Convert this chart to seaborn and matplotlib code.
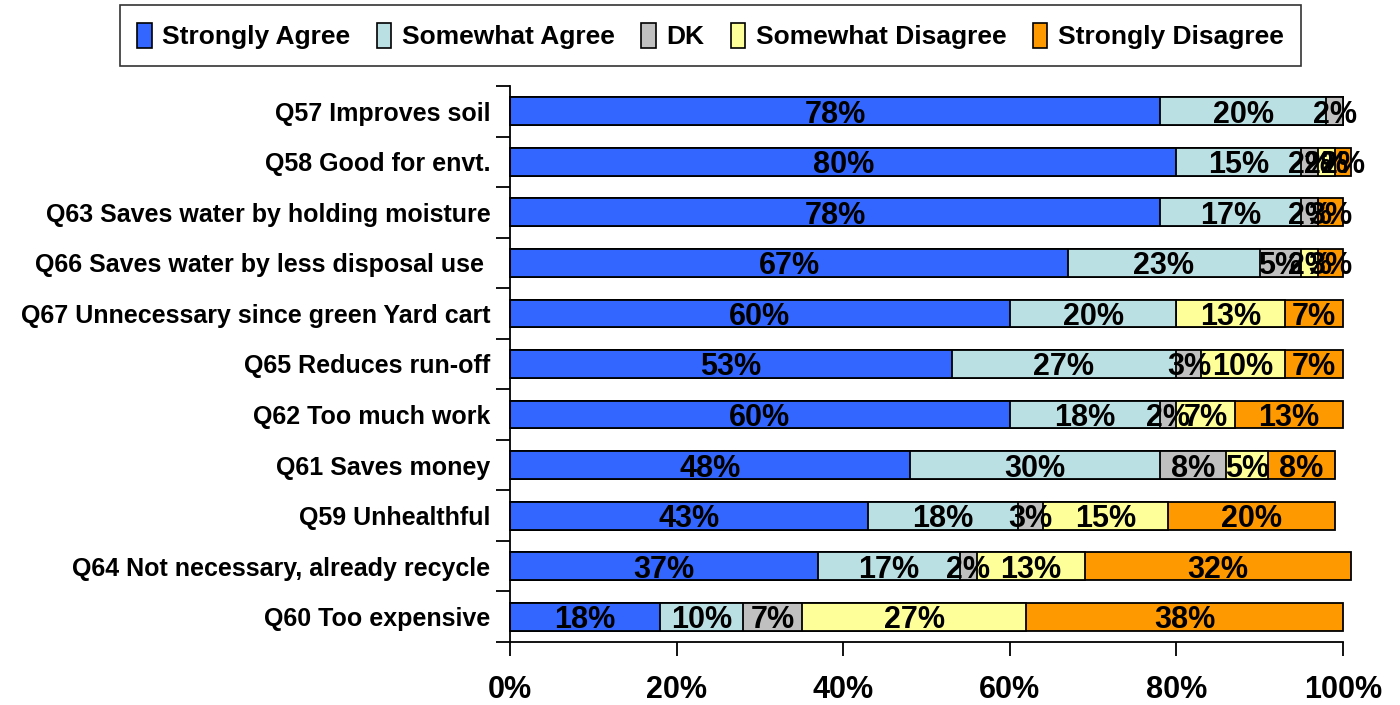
import numpy as np
import pandas as pd
import matplotlib
matplotlib.use("Agg")
import matplotlib.pyplot as plt
import seaborn as sns
from matplotlib.ticker import FixedLocator
from matplotlib.patches import Patch

categories = [
    "Q57 Improves soil",
    "Q58 Good for envt.",
    "Q63 Saves water by holding moisture",
    "Q66 Saves water by less disposal use ",
    "Q67 Unnecessary since green Yard cart",
    "Q65 Reduces run-off",
    "Q62 Too much work",
    "Q61 Saves money",
    "Q59 Unhealthful",
    "Q64 Not necessary, already recycle",
    "Q60 Too expensive",
]
strongly_agree    = [78, 80, 78, 67, 60, 53, 60, 48, 43, 37, 18]
somewhat_agree    = [20, 15, 17, 23, 20, 27, 18, 30, 18, 17, 10]
dont_know         = [2, 2, 2, 5, 0, 3, 2, 8, 3, 2, 7]
somewhat_disagree = [0, 2, 0, 2, 13, 10, 7, 5, 15, 13, 27]
strongly_disagree = [0, 2, 3, 3, 7, 7, 13, 8, 20, 32, 38]

series_names = ["Strongly Agree", "Somewhat Agree", "DK", "Somewhat Disagree", "Strongly Disagree"]
series_vals = [strongly_agree, somewhat_agree, dont_know, somewhat_disagree, strongly_disagree]
colors = ["#3366FF", "#BBE0E3", "#C0C0C0", "#FFFF99", "#FF9900"]
x_ticks = [0, 20, 40, 60, 80, 100]

sns.set_theme(style="white")
plt.rcParams['font.family'] = ['Liberation Sans', 'DejaVu Sans']
plt.rcParams['font.weight'] = 'bold'
for k in ['text.color', 'axes.labelcolor', 'xtick.color', 'ytick.color']:
    plt.rcParams[k] = 'black'

fig = plt.figure(figsize=(14, 7.05), dpi=100)
ax = fig.add_axes([0.3643, 0.0894, 0.595, 0.7886])

vals = np.array(series_vals, dtype=float)
cum = np.cumsum(vals, axis=0)

# draw cumulative bars from last to first (stacking)
for i in range(len(series_names) - 1, -1, -1):
    df = pd.DataFrame({"cat": categories, "val": cum[i]})
    sns.barplot(data=df, x="val", y="cat", order=categories, color=colors[i],
                saturation=1, width=0.55, edgecolor="black", linewidth=1.3,
                ax=ax, orient="h", errorbar=None)

for p in ax.patches:
    p.set_clip_on(False)

# labels
for i in range(len(series_names)):
    for j, cat in enumerate(categories):
        v = vals[i, j]
        if v <= 0:
            continue
        cx = cum[i, j] - v / 2
        ax.text(cx, j, f"{int(v)}%", ha="center", va="center_baseline",
                fontsize=22, fontweight="bold", color="black", clip_on=False)

ax.set_xlim(0, 100)
ax.set_ylim(len(categories) - 0.5, -0.5)
ax.set_xlabel("")
ax.set_ylabel("")
ax.xaxis.set_major_locator(FixedLocator(x_ticks))
ax.set_xticklabels([f"{t}%" for t in x_ticks], fontsize=22, fontweight="bold", color="black")
ax.tick_params(axis="x", direction="out", length=10, width=1.3, color="black", pad=14, bottom=True)
ax.yaxis.set_minor_locator(FixedLocator(np.arange(-0.5, len(categories), 1.0)))
ax.tick_params(axis="y", which="major", length=0, pad=14, labelsize=18, labelcolor="black")
ax.tick_params(axis="y", which="minor", direction="out", length=10, width=1.3, color="black", left=True)
for lbl in ax.get_yticklabels():
    lbl.set_fontweight("bold")
for s in ["top", "right"]:
    ax.spines[s].set_visible(False)
for s in ["left", "bottom"]:
    ax.spines[s].set_color("black")
    ax.spines[s].set_linewidth(1.3)

handles = [Patch(facecolor=c, edgecolor="black", linewidth=1.2) for c in colors]
leg = fig.legend(handles, series_names, loc="center", bbox_to_anchor=(0.5075, 0.949),
                 ncol=5, frameon=True, fancybox=False, fontsize=19,
                 handlelength=0.55, handleheight=1.1, handletextpad=0.4,
                 columnspacing=1.0, borderpad=0.65)
leg.get_frame().set_edgecolor("black")
leg.get_frame().set_linewidth(1.2)
for t in leg.get_texts():
    t.set_fontweight("bold")
    t.set_color("black")

fig.savefig("out.png", dpi=100, facecolor="white")
